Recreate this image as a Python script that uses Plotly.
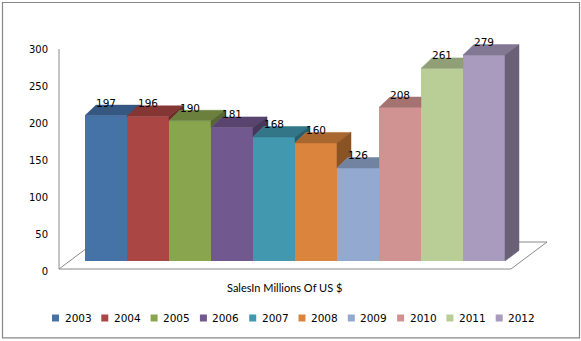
import plotly.graph_objects as go

# ---------------- data ----------------
years = ["2003", "2004", "2005", "2006", "2007", "2008", "2009", "2010", "2011", "2012"]
sales = [197, 196, 190, 181, 168, 160, 126, 208, 261, 279]
colors = ["#4572A7", "#AA4643", "#89A54E", "#71588F", "#4198AF",
          "#DB843D", "#93A9CF", "#D19392", "#B9CD96", "#A99BBD"]
y_ticks = [0, 50, 100, 150, 200, 250, 300]
x_title = "SalesIn Millions Of US $"

# ---------------- geometry (pixels) ----------------
W, H = 581, 341
BAR_PX = 42.0          # px per category
BAR0_LEFT = 85.0       # left edge of first bar
PX_PER_UNIT = 0.738    # px per sales unit
BASE_PX = 261.0        # bar base (front)
TICK0_PX = 271.0       # tick "0" position
DXL_PX, DXR_PX, DY_PX = 11.0, 14.0, 10.5

dxl = DXL_PX / BAR_PX
dxr = DXR_PX / BAR_PX
dy = DY_PX / PX_PER_UNIT

x_range = [-0.5 - BAR0_LEFT / BAR_PX, -0.5 + (W - BAR0_LEFT) / BAR_PX]
y_range = [-(H - BASE_PX) / PX_PER_UNIT, BASE_PX / PX_PER_UNIT]
y2_range = [-(H - TICK0_PX) / PX_PER_UNIT, TICK0_PX / PX_PER_UNIT]


def px(x):
    return x / W


def py(y):
    return 1 - y / H


def shade(hexc, f):
    h = hexc.lstrip("#")
    r, g, b = (int(h[i:i + 2], 16) for i in (0, 2, 4))
    return "#%02x%02x%02x" % (int(r * f), int(g * f), int(b * f))


FONT = "DejaVu Sans"
fig = go.Figure()

# front faces
for i, (yr, v, c) in enumerate(zip(years, sales, colors)):
    fig.add_trace(go.Bar(x=[i], y=[v], width=1, name=yr, marker_color=c,
                         marker_line_width=0, showlegend=False, hoverinfo="name+y"))

# top and side faces
n = len(sales)
for i, (v, c) in enumerate(zip(sales, colors)):
    xl, xr = i - 0.5, i + 0.5
    tn = sales[i + 1] if i + 1 < n else None
    top_c = shade(c, 0.78)
    side_c = shade(c, 0.63)
    if tn is not None and tn > v:
        tx = [xl, xr, xr, xl + dxl, xl]
        ty = [v, v, v + dy, v + dy, v]
    else:
        tx = [xl, xr, xr + dxr, xl + dxl, xl]
        ty = [v, v, v + dy, v + dy, v]
    fig.add_trace(go.Scatter(x=tx, y=ty, fill="toself", fillcolor=top_c, mode="lines",
                             line=dict(color=top_c, width=0.5), showlegend=False,
                             hoverinfo="skip"))
    if tn is None:
        sx = [xr, xr + dxr, xr + dxr, xr, xr]
        sy = [v, v + dy, dy, 0, v]
    elif tn < v:
        sx = [xr, xr + dxr, xr + dxr, xr + dxl, xr, xr]
        sy = [v, v + dy, tn + dy, tn + dy, tn, v]
    else:
        sx = sy = None
    if sx is not None:
        fig.add_trace(go.Scatter(x=sx, y=sy, fill="toself", fillcolor=side_c, mode="lines",
                                 line=dict(color=side_c, width=0.5), showlegend=False,
                                 hoverinfo="skip"))

# dummy trace so yaxis2 renders
fig.add_trace(go.Scatter(x=[0], y=[0], yaxis="y2", mode="markers",
                         marker=dict(opacity=0), showlegend=False, hoverinfo="skip"))

# data labels
annotations = []
for i, v in enumerate(sales):
    annotations.append(dict(x=i, y=v, xref="x", yref="y", text=str(v), showarrow=False,
                            yanchor="middle", xanchor="center", yshift=DY_PX + 2.5,
                            font=dict(family=FONT, size=10.5, color="#000000")))

# custom legend
LEG_X0, LEG_STEP, LEG_Y = 52.0, 49.3, 318.0
shapes = []
for i, (yr, c) in enumerate(zip(years, colors)):
    x0 = LEG_X0 + LEG_STEP * i
    shapes.append(dict(type="rect", xref="paper", yref="paper",
                       x0=px(x0), x1=px(x0 + 7), y0=py(LEG_Y - 3.5), y1=py(LEG_Y + 3.5),
                       fillcolor=c, line=dict(width=0)))
    annotations.append(dict(x=px(x0 + 10.5), y=py(LEG_Y), xref="paper", yref="paper",
                            text=yr, showarrow=False, xanchor="left", yanchor="middle",
                            font=dict(family=FONT, size=10.5, color="#000000")))

# axis title
annotations.append(dict(x=px(284), y=py(287), xref="paper", yref="paper", text=x_title,
                        showarrow=False, xanchor="center", yanchor="middle",
                        font=dict(family="Lato", size=11, color="#000000")))

# floor and wall
floor = "M {} {} L {} {} L {} {} L {} {} Z".format(
    px(59), py(269), px(511), py(269), px(547), py(242), px(95), py(242))
shapes.append(dict(type="path", path=floor, xref="paper", yref="paper", layer="below",
                   fillcolor="white", line=dict(color="#8a8a8a", width=1)))
shapes.append(dict(type="line", xref="paper", yref="paper", layer="below",
                   x0=px(59), x1=px(59), y0=py(49), y1=py(269),
                   line=dict(color="#8a8a8a", width=1)))
# outer border
shapes.append(dict(type="rect", xref="paper", yref="paper",
                   x0=px(2.5), x1=px(579.5), y0=py(337.8), y1=py(2.5),
                   line=dict(color="#878787", width=1.2), fillcolor="rgba(0,0,0,0)"))

fig.update_layout(
    width=W, height=H, margin=dict(l=0, r=0, t=0, b=0),
    paper_bgcolor="white", plot_bgcolor="rgba(0,0,0,0)",
    barmode="overlay", showlegend=False,
    xaxis=dict(range=x_range, domain=[0, 1], visible=False, fixedrange=True),
    yaxis=dict(range=y_range, domain=[0, 1], visible=False, fixedrange=True),
    yaxis2=dict(range=y2_range, overlaying="y", anchor="free", position=px(48), side="left",
                tickvals=y_ticks, showgrid=False, zeroline=False, showline=False, ticks="",
                tickfont=dict(family=FONT, size=10, color="#000000"), fixedrange=True),
    shapes=shapes, annotations=annotations,
)

fig.write_html("out.html")
